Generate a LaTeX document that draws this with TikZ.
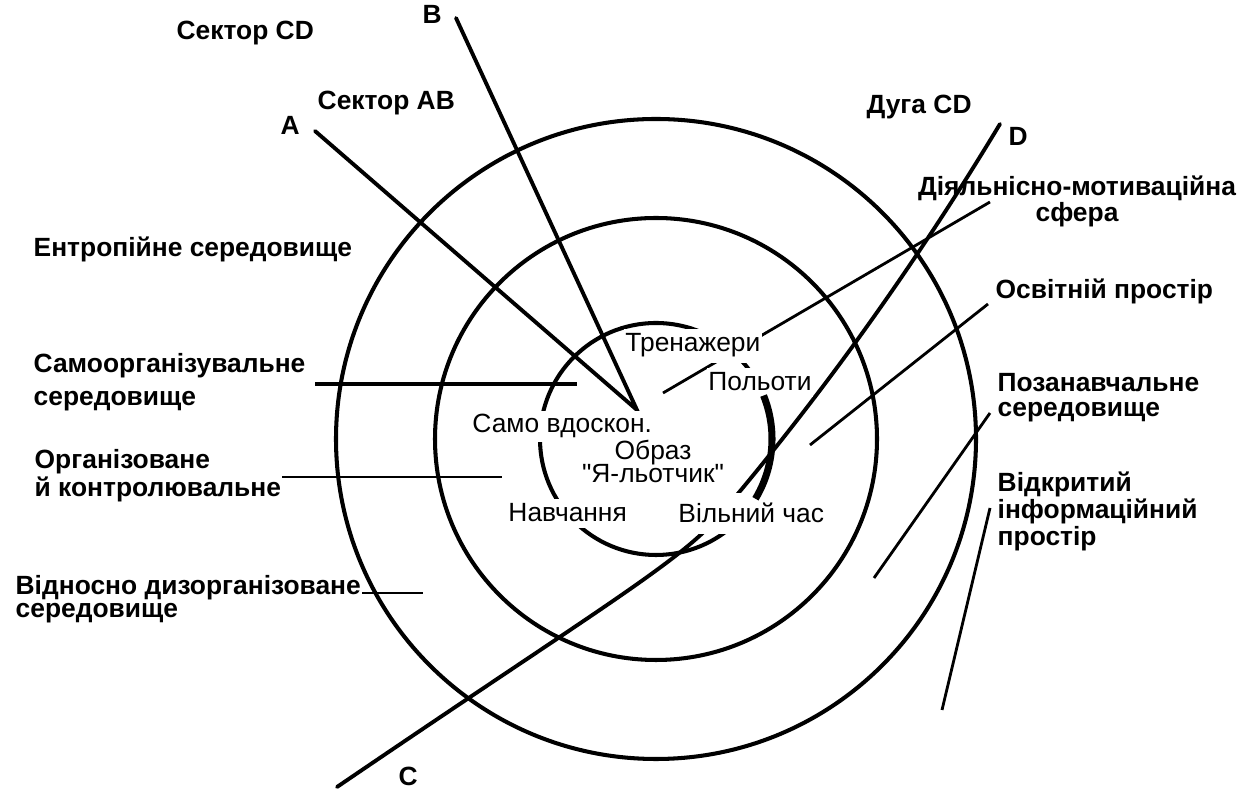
\documentclass[tikz,border=0pt]{standalone}
\usepackage{fontspec}
\setmainfont{Liberation Sans}
\newfontfamily\plainfont{Liberation Sans}
\begin{document}
\begin{tikzpicture}[x=0.01cm, y=-0.01cm,
  ring/.style={line width=1.15pt},
  ray/.style={line width=1.1pt, line cap=round},
  lead/.style={line width=0.8pt},
  lab/.style={font=\bfseries\fontsize{7.5}{9.4}\selectfont, inner sep=0pt, anchor=base west, align=left},
  inlab/.style={font=\plainfont\fontsize{7.5}{9}\selectfont, inner xsep=0.5pt, inner ysep=1.5pt, fill=white, anchor=base west}]
\useasboundingbox (0,0) rectangle (1239,798);
% Rings
\coordinate (cen) at (656,439);
\draw [ring] (cen) circle (320);
\draw [ring] (cen) circle (221);
\draw [ring] (cen) circle (116);
% Sector AB
\coordinate (aEnd) at (315,131);
\coordinate (bEnd) at (456,18);
\coordinate (apex) at (637,410);
\draw [ray] (aEnd) -- (apex) -- (bEnd);
\node [lab] (aLab) at (280,135) {A};
\node [lab] (bLab) at (422,24) {B};
\node [lab] (secCD) at (176,40) {Сектор CD};
\node [lab] (secAB) at (317,110) {Сектор АВ};
% Line C -- D
\coordinate (cEnd) at (337,787);
\coordinate (bend) at (720,515);
\coordinate (dEnd) at (1000,124);
\draw [ray] (cEnd) .. controls (600,608) and (680,562) .. (bend) .. controls (800,421) and (900,290) .. (dEnd);
\node [lab] (cLab) at (398,786) {C};
\node [lab] (dLab) at (1008,146) {D};
\node [lab] (arcCD) at (866,114) {Дуга CD};
% Left labels (base = last line)
\node [lab] (entropy) at (33,257) {Ентропійне середовище};
\node [lab] (selfOrg) at (33,406) {Самоорганізувальне\\середовище};
\coordinate (selfA) at (315,384);
\coordinate (selfB) at (577,384);
\draw [line width=1.4pt] (selfA) -- (selfB);
\node [lab] (orgCtl) at (34,497) {Організоване\\[-1.2pt]й контролювальне};
\coordinate (orgA) at (282,477);
\coordinate (orgB) at (502,477);
\draw [lead] (orgA) -- (orgB);
\node [lab] (disOrg) at (15,618) {Відносно дизорганізоване\\[-2.6pt]середовище};
\coordinate (disA) at (362,593);
\coordinate (disB) at (423,593);
\draw [lead] (disA) -- (disB);
% Right labels
\node [lab, align=center, anchor=base] (activity) at (1077,222) {Діяльнісно-мотиваційна\\[-2pt]сфера};
\coordinate (actA) at (990,202);
\coordinate (actB) at (663,393);
\draw [lead] (actA) -- (actB);
\node [lab] (eduSpace) at (995,299) {Освітній простір};
\coordinate (eduA) at (988,304);
\coordinate (eduB) at (810,445);
\draw [lead] (eduA) -- (eduB);
\node [lab] (extraEnv) at (997,417) {Позанавчальне\\[-2.1pt]середовище};
\coordinate (extraA) at (990,413);
\coordinate (extraB) at (874,578);
\draw [lead] (extraA) -- (extraB);
\node [lab] (openInfo) at (997,546) {Відкритий\\[-1.6pt]інформаційний\\[-1.6pt]простір};
\coordinate (infoA) at (990,508);
\coordinate (infoB) at (942,710);
\draw [lead] (infoA) -- (infoB);
% Inner labels
\node [inlab] (trainers) at (623,352) {Тренажери};
\node [inlab] (flights) at (706,391) {Польоти};
\node [inlab, inner ysep=1pt] (selfImp) at (470,433) {Само вдоскон.};
\node [inlab, fill=none, align=center, anchor=base] (pilotImg) at (653,483) {Образ\\[-2.3pt]"Я-льотчик"};
\node [inlab] (study) at (506,522) {Навчання};
\node [inlab, inner ysep=3pt] (freeTime) at (676,523) {Вільний час};
% Arc CD on the inner ring
\draw [line width=2pt] (cen) ++(-22:116) arc [start angle=-22, end angle=31, radius=116];
\end{tikzpicture}
\end{document}
